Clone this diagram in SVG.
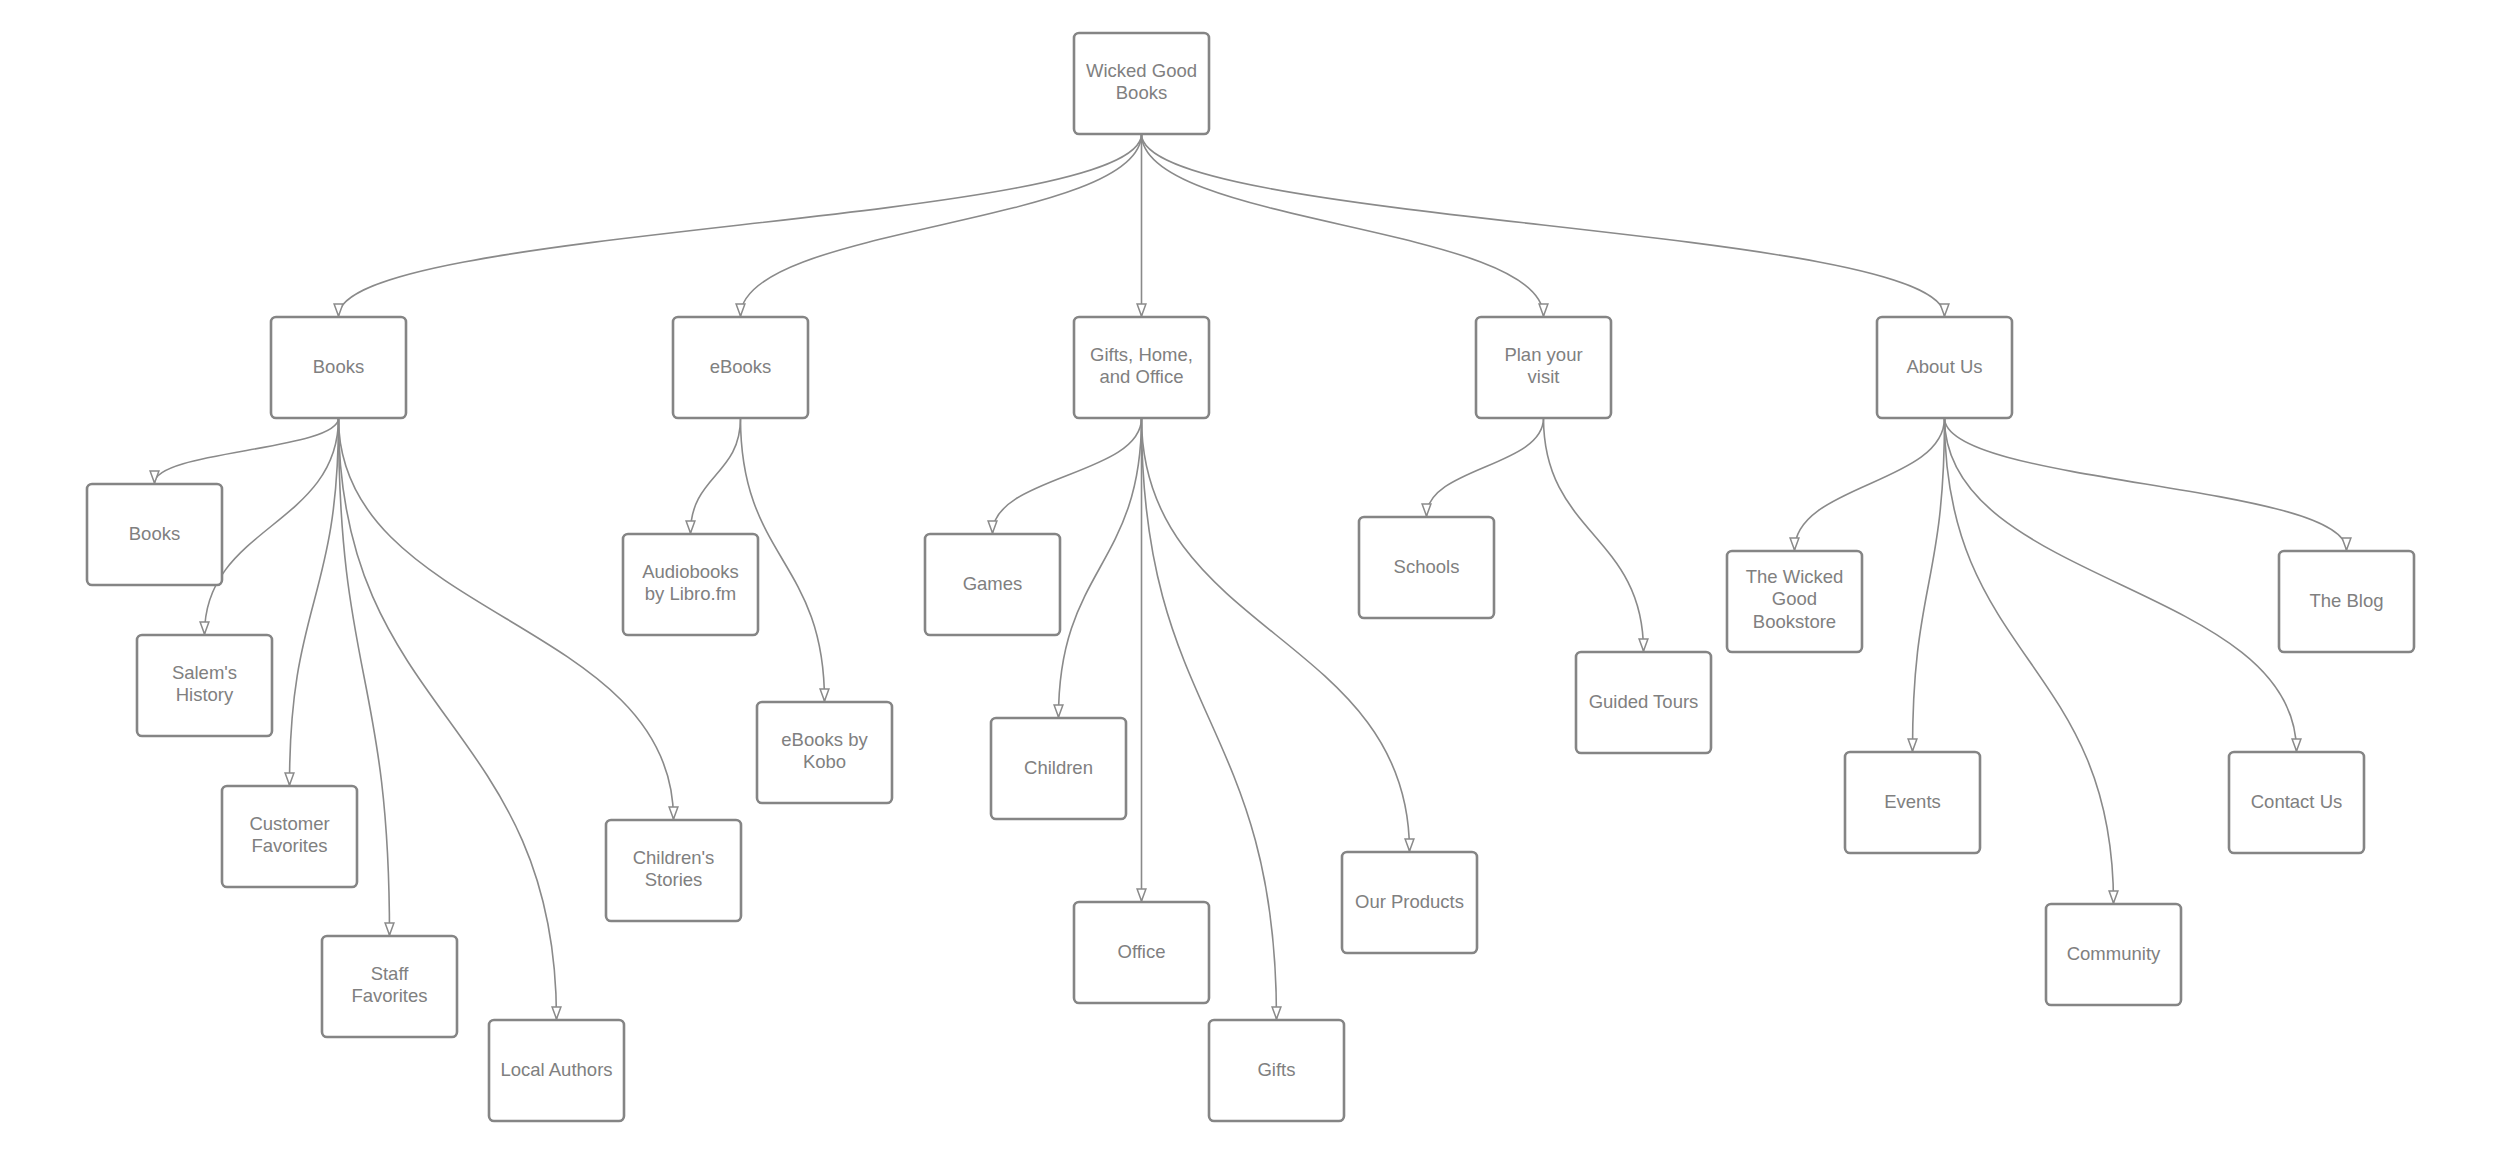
<svg xmlns="http://www.w3.org/2000/svg" width="2500" height="1154" viewBox="0 0 2500 1154">
<defs>
<style>
.n rect{fill:#fff;stroke:#858585;stroke-width:2.6}
.n text{font-family:"Liberation Sans",Arial,sans-serif;font-size:18.5px;fill:#808080;text-anchor:middle}
#edges path{fill:none;stroke:#8a8a8a;stroke-width:1.6;marker-end:url(#arr)}
</style>
<marker id="arr" viewBox="0 0 13 10" refX="12.5" refY="5" markerWidth="13" markerHeight="10" markerUnits="userSpaceOnUse" orient="auto" overflow="visible">
<path d="M0.5,0.6 L12.5,5 L0.5,9.4 Z" fill="#fff" stroke="#8a8a8a" stroke-width="1.5" stroke-linejoin="miter"/>
</marker>
</defs>
<rect width="2500" height="1154" fill="#fff"/>
<g id="edges">
<path d="M1141.5,134 C1141.5,225 338.5,225 338.5,316"/>
<path d="M1141.5,134 C1141.5,225 740.5,225 740.5,316"/>
<path d="M1141.5,134 L1141.5,316"/>
<path d="M1141.5,134 C1141.5,225 1543.5,225 1543.5,316"/>
<path d="M1141.5,134 C1141.5,225 1944.5,225 1944.5,316"/>
<path d="M338.5,418 C338.5,450.5 154.5,450.5 154.5,483"/>
<path d="M338.5,418 C338.5,526 204.5,526 204.5,634"/>
<path d="M338.5,418 C338.5,601.5 289.5,601.5 289.5,785"/>
<path d="M338.5,418 C338.5,676.5 389.5,676.5 389.5,935"/>
<path d="M338.5,418 C338.5,718.5 556.5,718.5 556.5,1019"/>
<path d="M338.5,418 C338.5,618.5 673.5,618.5 673.5,819"/>
<path d="M740.5,418 C740.5,475.5 690.5,475.5 690.5,533"/>
<path d="M740.5,418 C740.5,559.5 824.5,559.5 824.5,701"/>
<path d="M1141.5,418 C1141.5,475.5 992.5,475.5 992.5,533"/>
<path d="M1141.5,418 C1141.5,567.5 1058.5,567.5 1058.5,717"/>
<path d="M1141.5,418 L1141.5,901"/>
<path d="M1141.5,418 C1141.5,718.5 1276.5,718.5 1276.5,1019"/>
<path d="M1141.5,418 C1141.5,634.5 1409.5,634.5 1409.5,851"/>
<path d="M1543.5,418 C1543.5,467 1426.5,467 1426.5,516"/>
<path d="M1543.5,418 C1543.5,534.5 1643.5,534.5 1643.5,651"/>
<path d="M1944.5,418 C1944.5,484 1794.5,484 1794.5,550"/>
<path d="M1944.5,418 C1944.5,584.5 1912.5,584.5 1912.5,751"/>
<path d="M1944.5,418 C1944.5,660.5 2113.5,660.5 2113.5,903"/>
<path d="M1944.5,418 C1944.5,584.5 2296.5,584.5 2296.5,751"/>
<path d="M1944.5,418 C1944.5,484 2346.5,484 2346.5,550"/>
</g>
<g id="n-root" class="n"><rect x="1074" y="33" width="135" height="101" rx="5"/><text x="1141.5" y="76.5">Wicked Good</text><text x="1141.5" y="99">Books</text></g>
<g id="n-books" class="n"><rect x="271" y="317" width="135" height="101" rx="5"/><text x="338.5" y="372.5">Books</text></g>
<g id="n-ebooks" class="n"><rect x="673" y="317" width="135" height="101" rx="5"/><text x="740.5" y="372.5">eBooks</text></g>
<g id="n-gifts-home" class="n"><rect x="1074" y="317" width="135" height="101" rx="5"/><text x="1141.5" y="360.5">Gifts, Home,</text><text x="1141.5" y="383">and Office</text></g>
<g id="n-plan" class="n"><rect x="1476" y="317" width="135" height="101" rx="5"/><text x="1543.5" y="360.5">Plan your</text><text x="1543.5" y="383">visit</text></g>
<g id="n-about" class="n"><rect x="1877" y="317" width="135" height="101" rx="5"/><text x="1944.5" y="372.5">About Us</text></g>
<g id="n-books2" class="n"><rect x="87" y="484" width="135" height="101" rx="5"/><text x="154.5" y="539.5">Books</text></g>
<g id="n-salem" class="n"><rect x="137" y="635" width="135" height="101" rx="5"/><text x="204.5" y="678.5">Salem's</text><text x="204.5" y="701">History</text></g>
<g id="n-customer" class="n"><rect x="222" y="786" width="135" height="101" rx="5"/><text x="289.5" y="829.5">Customer</text><text x="289.5" y="852">Favorites</text></g>
<g id="n-staff" class="n"><rect x="322" y="936" width="135" height="101" rx="5"/><text x="389.5" y="979.5">Staff</text><text x="389.5" y="1002">Favorites</text></g>
<g id="n-local" class="n"><rect x="489" y="1020" width="135" height="101" rx="5"/><text x="556.5" y="1075.5">Local Authors</text></g>
<g id="n-childstories" class="n"><rect x="606" y="820" width="135" height="101" rx="5"/><text x="673.5" y="863.5">Children's</text><text x="673.5" y="886">Stories</text></g>
<g id="n-audio" class="n"><rect x="623" y="534" width="135" height="101" rx="5"/><text x="690.5" y="577.5">Audiobooks</text><text x="690.5" y="600">by Libro.fm</text></g>
<g id="n-kobo" class="n"><rect x="757" y="702" width="135" height="101" rx="5"/><text x="824.5" y="745.5">eBooks by</text><text x="824.5" y="768">Kobo</text></g>
<g id="n-games" class="n"><rect x="925" y="534" width="135" height="101" rx="5"/><text x="992.5" y="589.5">Games</text></g>
<g id="n-children" class="n"><rect x="991" y="718" width="135" height="101" rx="5"/><text x="1058.5" y="773.5">Children</text></g>
<g id="n-office" class="n"><rect x="1074" y="902" width="135" height="101" rx="5"/><text x="1141.5" y="957.5">Office</text></g>
<g id="n-gifts" class="n"><rect x="1209" y="1020" width="135" height="101" rx="5"/><text x="1276.5" y="1075.5">Gifts</text></g>
<g id="n-products" class="n"><rect x="1342" y="852" width="135" height="101" rx="5"/><text x="1409.5" y="907.5">Our Products</text></g>
<g id="n-schools" class="n"><rect x="1359" y="517" width="135" height="101" rx="5"/><text x="1426.5" y="572.5">Schools</text></g>
<g id="n-tours" class="n"><rect x="1576" y="652" width="135" height="101" rx="5"/><text x="1643.5" y="707.5">Guided Tours</text></g>
<g id="n-store" class="n"><rect x="1727" y="551" width="135" height="101" rx="5"/><text x="1794.5" y="582.5">The Wicked</text><text x="1794.5" y="605">Good</text><text x="1794.5" y="627.5">Bookstore</text></g>
<g id="n-events" class="n"><rect x="1845" y="752" width="135" height="101" rx="5"/><text x="1912.5" y="807.5">Events</text></g>
<g id="n-community" class="n"><rect x="2046" y="904" width="135" height="101" rx="5"/><text x="2113.5" y="959.5">Community</text></g>
<g id="n-contact" class="n"><rect x="2229" y="752" width="135" height="101" rx="5"/><text x="2296.5" y="807.5">Contact Us</text></g>
<g id="n-blog" class="n"><rect x="2279" y="551" width="135" height="101" rx="5"/><text x="2346.5" y="606.5">The Blog</text></g>
</svg>
